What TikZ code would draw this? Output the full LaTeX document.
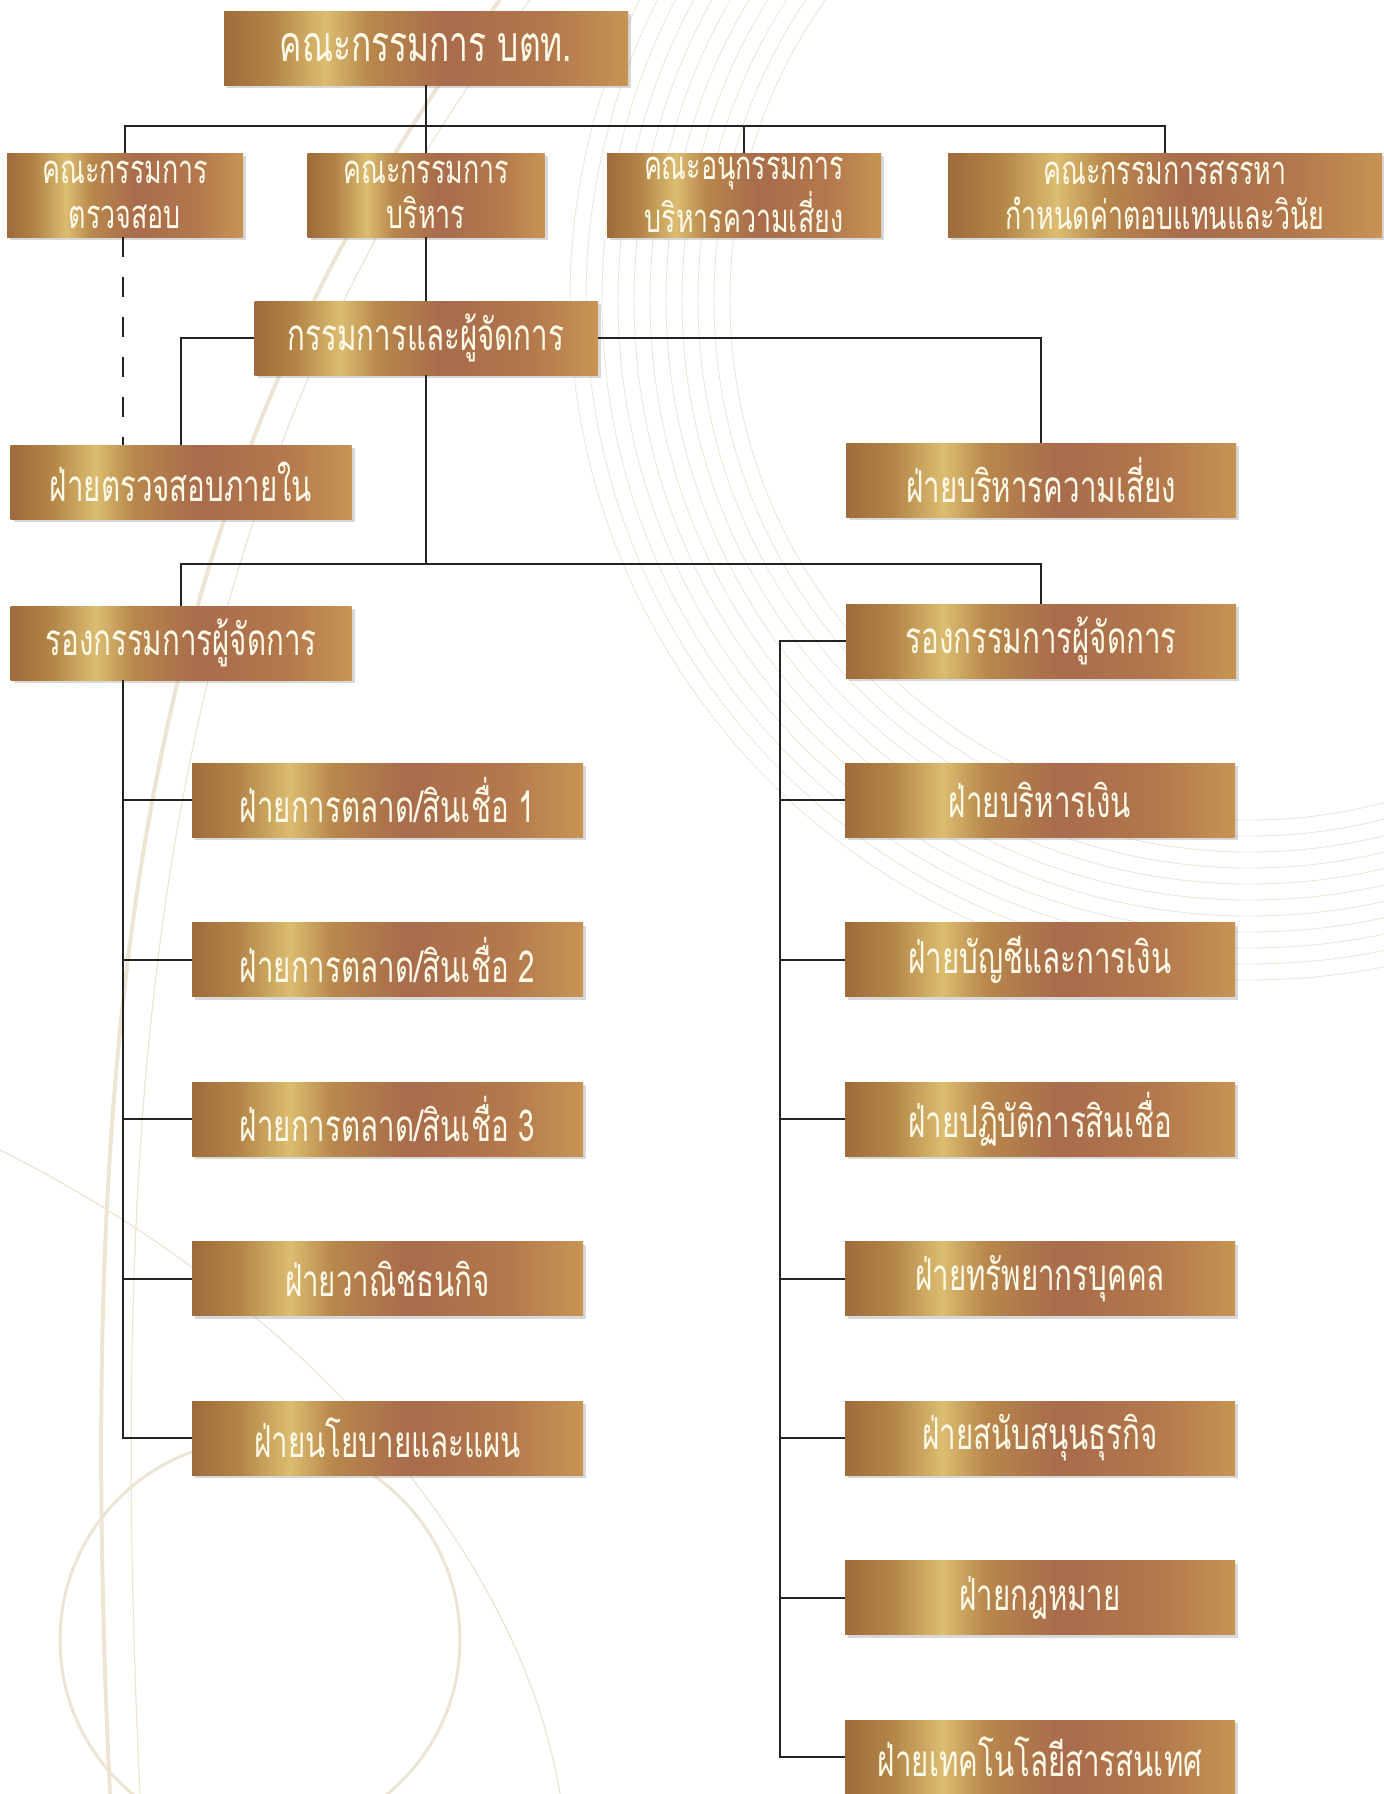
\documentclass[tikz,border=0pt]{standalone}
\usepackage{fontspec}
\newfontfamily\thaifont[Script=Thai,FakeStretch=0.67]{Loma}
\usetikzlibrary{shadows}
\pgfdeclarehorizontalshading{bronze}{100bp}{rgb(0bp)=(0.62,0.42,0.23); rgb(25bp)=(0.62,0.42,0.23); rgb(31bp)=(0.70,0.52,0.28); rgb(37.5bp)=(0.86,0.74,0.44); rgb(43bp)=(0.72,0.53,0.30); rgb(52.5bp)=(0.66,0.42,0.30); rgb(65bp)=(0.70,0.47,0.30); rgb(75bp)=(0.78,0.58,0.33); rgb(100bp)=(0.78,0.58,0.33)}
\definecolor{txt}{RGB}{255,250,232}
\definecolor{swirl}{RGB}{238,228,212}
\definecolor{linec}{RGB}{35,35,35}
\tikzset{box/.style = {rectangle, shade, shading = bronze, inner sep = 0pt, text = txt, align = center, minimum height = 37pt, font = \thaifont\fontsize{22}{24}\selectfont, drop shadow = {opacity = 0.3, shadow xshift = 1.5pt, shadow yshift = -1.5pt}}}
\tikzset{toprow/.style = {box, minimum height = 42pt, font = \thaifont\fontsize{20}{22.5}\selectfont}}
\tikzset{conn/.style = {draw = linec, line width = 1pt}}

\begin{document}
\begin{tikzpicture}[x = 0.5pt, y = -0.5pt]
\fill[white] (0,0) rectangle (1384,1794);
\useasboundingbox (0,0) rectangle (1384,1794);
\begin{scope}
\clip (0,0) rectangle (1384,1794);
\foreach \r in {260,268,...,340} \draw[swirl, line width = 0.4pt] (1250,300) circle[radius = \r pt];
\draw[swirl, line width = 2pt] (500,0) .. controls (160,450) and (70,950) .. (110,1794);
\draw[swirl, line width = 0.6pt] (530,0) .. controls (190,450) and (100,950) .. (140,1794);
\draw[swirl, line width = 0.6pt] (0,1150) .. controls (300,1300) and (520,1550) .. (560,1794);
\draw[swirl, line width = 1.5pt] (260,1640) circle[radius = 100pt];
\end{scope}

\node[box, minimum width = 202pt, font = \thaifont\fontsize{25}{27}\selectfont] (board) at (426,48) {คณะกรรมการ บตท.};
\node[toprow, minimum width = 118pt] (audc) at (125,195) {คณะกรรมการ\\ตรวจสอบ};
\node[toprow, minimum width = 118.5pt] (exec) at (426,195) {คณะกรรมการ\\บริหาร};
\node[toprow, minimum width = 137pt] (riskc) at (744,195) {คณะอนุกรรมการ\\บริหารความเสี่ยง};
\node[toprow, minimum width = 217pt] (nomc) at (1165,195) {คณะกรรมการสรรหา\\กำหนดค่าตอบแทนและวินัย};
\node[box, minimum width = 171.5pt] (gm) at (426,338) {กรรมการและผู้จัดการ};
\node[box, minimum width = 170.5pt] (iaud) at (181,482) {ฝ่ายตรวจสอบภายใน};
\node[box, minimum width = 195pt] (riskd) at (1041,480) {ฝ่ายบริหารความเสี่ยง};
\node[box, minimum width = 170.5pt] (vpl) at (181,643) {รองกรรมการผู้จัดการ};
\node[box, minimum width = 195pt] (vpr) at (1041,641) {รองกรรมการผู้จัดการ};
\foreach \t [count = \i] in {ฝ่ายการตลาด/สินเชื่อ 1, ฝ่ายการตลาด/สินเชื่อ 2, ฝ่ายการตลาด/สินเชื่อ 3, ฝ่ายวาณิชธนกิจ, ฝ่ายนโยบายและแผน}
  \node[box, minimum width = 195.5pt] (l\i) at (387.5,{800+159.5*(\i-1)}) {\t};
\foreach \t [count = \i] in {ฝ่ายบริหารเงิน, ฝ่ายบัญชีและการเงิน, ฝ่ายปฏิบัติการสินเชื่อ, ฝ่ายทรัพยากรบุคคล, ฝ่ายสนับสนุนธุรกิจ, ฝ่ายกฎหมาย, ฝ่ายเทคโนโลยีสารสนเทศ}
  \node[box, minimum width = 195pt] (r\i) at (1040,{800+159.5*(\i-1)}) {\t};

\coordinate (T) at (426,126);
\coordinate (H) at (426,564);
\coordinate (LS) at (123,0);
\coordinate (RS) at (780,0);
\draw[conn] (board) -- (exec);
\draw[conn] (audc.north) |- (T) -| (nomc.north);
\draw[conn] (T) -| (riskc.north);
\draw[conn] (exec) -- (gm);
\draw[conn] (gm.west) -| (iaud.north);
\draw[conn] (gm.east) -| (riskd.north);
\draw[conn, dash pattern = on 10pt off 10pt] (audc.south -| LS) -- (iaud.north -| LS);
\draw[conn] (gm.south) -- (H);
\draw[conn] (vpl.north) |- (H) -| (vpr.north);
\draw[conn] (vpl.south -| LS) |- (l5.west);
\foreach \i in {1,...,4} \draw[conn] (l\i.west) -- (l\i.west -| LS);
\draw[conn] (vpr.west) -| (RS |- r7.west) -- (r7.west);
\foreach \i in {1,...,6} \draw[conn] (r\i.west) -- (r\i.west -| RS);
\end{tikzpicture}
\end{document}
